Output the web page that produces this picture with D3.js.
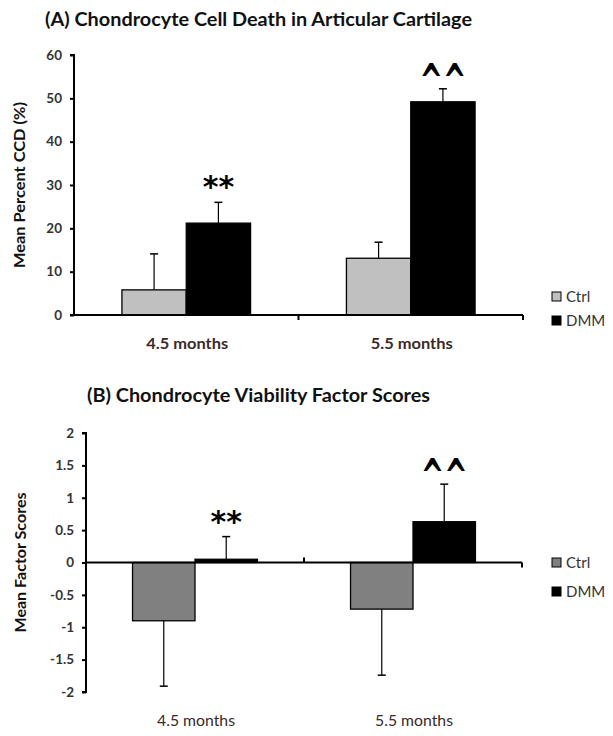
<!DOCTYPE html>
<html><head><meta charset="utf-8">
<script src="https://cdn.jsdelivr.net/npm/d3@7"></script>
<style>body{margin:0;background:#fff}svg{display:block}</style>
</head><body>
<svg id="c" width="613" height="736"></svg>
<script>
const categories = ["4.5 months", "5.5 months"];
const series = ["Ctrl", "DMM"];
// Chart A: Mean Percent CCD (%)
const ccdCtrl = [5.8, 13.1];
const ccdCtrlErr = [8.3, 3.7];
const ccdDmm = [21.2, 49.2];
const ccdDmmErr = [4.8, 3.0];
const ccdTicks = [0, 10, 20, 30, 40, 50, 60];
// Chart B: Mean Factor Scores
const vfCtrl = [-0.90, -0.72];
const vfCtrlErr = [1.01, 1.02];
const vfDmm = [0.05, 0.63];
const vfDmmErr = [0.35, 0.58];
const vfTicks = [-2, -1.5, -1, -0.5, 0, 0.5, 1, 1.5, 2];
const sigA = [{cat: 0, ser: 1, text: "**"}, {cat: 1, ser: 1, text: "^^"}];
const sigB = [{cat: 0, ser: 1, text: "**"}, {cat: 1, ser: 1, text: "^^"}];

const svg = d3.select("#c");
const FONT = "Lato, 'Open Sans', sans-serif";

function drawChart(cfg) {
  const g = svg.append("g");
  const y = d3.scaleLinear().domain(cfg.domain).range([cfg.yBottom, cfg.yTop]);
  const x = d3.scaleBand().domain(categories).range([cfg.xLeft, cfg.xRight]);
  const bw = x.bandwidth();
  const gw = bw * 0.573;
  const x1 = d3.scaleBand().domain(series).range([(bw - gw) / 2, (bw + gw) / 2]);
  const y0 = y(0);

  // title
  g.append("text").attr("x", cfg.titleX).attr("y", cfg.titleY)
    .attr("text-anchor", "middle").attr("font-family", FONT).attr("font-weight", "bold")
    .attr("font-size", 19).attr("fill", "#111")
    .attr("textLength", cfg.titleLen).attr("lengthAdjust", "spacingAndGlyphs")
    .text(cfg.title);

  // bars
  const data = [];
  categories.forEach((c, i) => {
    data.push({c, s: "Ctrl", v: cfg.ctrl[i], e: cfg.ctrlErr[i]});
    data.push({c, s: "DMM", v: cfg.dmm[i], e: cfg.dmmErr[i]});
  });
  g.selectAll("rect.bar").data(data).join("rect")
    .attr("x", d => x(d.c) + x1(d.s))
    .attr("width", x1.bandwidth())
    .attr("y", d => Math.min(y(d.v), y0))
    .attr("height", d => Math.abs(y(d.v) - y0))
    .attr("fill", d => d.s === "Ctrl" ? cfg.ctrlColor : "#000")
    .attr("stroke", "#000").attr("stroke-width", 1.3);

  // error bars (one-sided, away from zero)
  data.forEach(d => {
    const cx = x(d.c) + x1(d.s) + x1.bandwidth() / 2;
    const sign = d.v >= 0 ? 1 : -1;
    const yv = y(d.v), ye = y(d.v + sign * d.e);
    g.append("line").attr("x1", cx).attr("x2", cx).attr("y1", yv).attr("y2", ye)
      .attr("stroke", "#000").attr("stroke-width", 1.2);
    g.append("line").attr("x1", cx - 4).attr("x2", cx + 4).attr("y1", ye).attr("y2", ye)
      .attr("stroke", "#000").attr("stroke-width", 1.5);
  });

  // y axis
  const ya = d3.axisLeft(y).tickValues(cfg.ticks).tickSize(4).tickPadding(8)
    .tickFormat(d => String(d));
  const yg = g.append("g").attr("transform", `translate(${cfg.xLeft},0)`).call(ya);
  yg.select(".domain").attr("stroke", "#000").attr("stroke-width", 2)
    .attr("d", `M-4,${cfg.yTop}H0V${cfg.yBottom}H-4`);
  yg.selectAll(".tick line").attr("stroke", "#000").attr("stroke-width", 2);
  yg.selectAll(".tick text").attr("font-family", FONT).attr("font-weight", "bold")
    .attr("font-size", 13.5).attr("fill", "#333");

  // x axis line at zero
  g.append("line").attr("x1", cfg.xLeft).attr("x2", cfg.xRight).attr("y1", y0).attr("y2", y0)
    .attr("stroke", "#000").attr("stroke-width", 2);
  const boundaries = [x(categories[1]), cfg.xRight];
  boundaries.forEach((bx, i) => {
    const dir = cfg.tickDirs[i];
    g.append("line").attr("x1", bx).attr("x2", bx).attr("y1", y0).attr("y2", y0 + dir * 5)
      .attr("stroke", "#000").attr("stroke-width", 2);
  });

  // category labels
  g.selectAll("text.cat").data(categories).join("text")
    .attr("x", d => x(d) + bw / 2 + 1).attr("y", cfg.catY)
    .attr("text-anchor", "middle").attr("font-family", FONT)
    .attr("font-weight", cfg.catBold ? "bold" : "normal")
    .attr("font-size", 15).attr("fill", "#3a2a2a")
    .attr("textLength", cfg.catLen).attr("lengthAdjust", "spacingAndGlyphs")
    .text(d => d);

  // y title
  g.append("text").attr("transform", `translate(${cfg.yTitleX},${(cfg.yTop + cfg.yBottom) / 2}) rotate(-90)`)
    .attr("text-anchor", "middle").attr("font-family", FONT).attr("font-weight", "bold")
    .attr("font-size", 16).attr("fill", "#111")
    .attr("textLength", cfg.yTitleLen).attr("lengthAdjust", "spacingAndGlyphs")
    .text(cfg.yTitle);

  // significance marks
  cfg.sig.forEach(m => {
    const d = data.find(dd => dd.c === categories[m.cat] && dd.s === series[m.ser]);
    const cx = x(d.c) + x1(d.s) + x1.bandwidth() / 2;
    const top = y(d.v + d.e);
    if (m.text === "**") {
      g.append("text").attr("x", cx).attr("y", top - 5)
        .attr("text-anchor", "middle").attr("font-family", "'DejaVu Sans', sans-serif")
        .attr("font-weight", "bold").attr("font-size", 30).attr("fill", "#000")
        .text(m.text);
    } else {
      g.append("text").attr("transform", `translate(${cx},${top + 9}) scale(1,1.7)`)
        .attr("text-anchor", "middle").attr("font-family", "'DejaVu Sans', sans-serif")
        .attr("font-weight", "bold").attr("font-size", 28).attr("fill", "#000")
        .text(m.text);
    }
  });

  // legend
  series.forEach((s, i) => {
    const ly = cfg.legendY[i];
    g.append("rect").attr("x", 552).attr("y", ly - 5).attr("width", 9).attr("height", 9)
      .attr("fill", s === "Ctrl" ? cfg.ctrlColor : "#000").attr("stroke", "#000").attr("stroke-width", 1);
    g.append("text").attr("x", 566).attr("y", ly + 5).attr("font-family", FONT)
      .attr("font-size", 15).attr("fill", "#333").text(s);
  });
}

drawChart({
  title: "(A) Chondrocyte Cell Death in Articular Cartilage", titleX: 258.5, titleY: 26, titleLen: 427,
  domain: [0, 60], yTop: 55, yBottom: 315, xLeft: 74, xRight: 523,
  ctrl: ccdCtrl, ctrlErr: ccdCtrlErr, dmm: ccdDmm, dmmErr: ccdDmmErr, ticks: ccdTicks,
  ctrlColor: "#c0c0c0", tickDirs: [1, 1], catY: 349, catBold: true, catLen: 82,
  yTitle: "Mean Percent CCD (%)", yTitleX: 25, yTitleLen: 166, sig: sigA,
  legendY: [297, 321]
});
drawChart({
  title: "(B) Chondrocyte Viability Factor Scores", titleX: 258.5, titleY: 402, titleLen: 343,
  domain: [-2, 2], yTop: 433, yBottom: 692, xLeft: 86, xRight: 522,
  ctrl: vfCtrl, ctrlErr: vfCtrlErr, dmm: vfDmm, dmmErr: vfDmmErr, ticks: vfTicks,
  ctrlColor: "#808080", tickDirs: [-1, 1], catY: 726, catBold: false, catLen: 78,
  yTitle: "Mean Factor Scores", yTitleX: 26, yTitleLen: 140, sig: sigB,
  legendY: [563, 592]
});
</script>
</body></html>
